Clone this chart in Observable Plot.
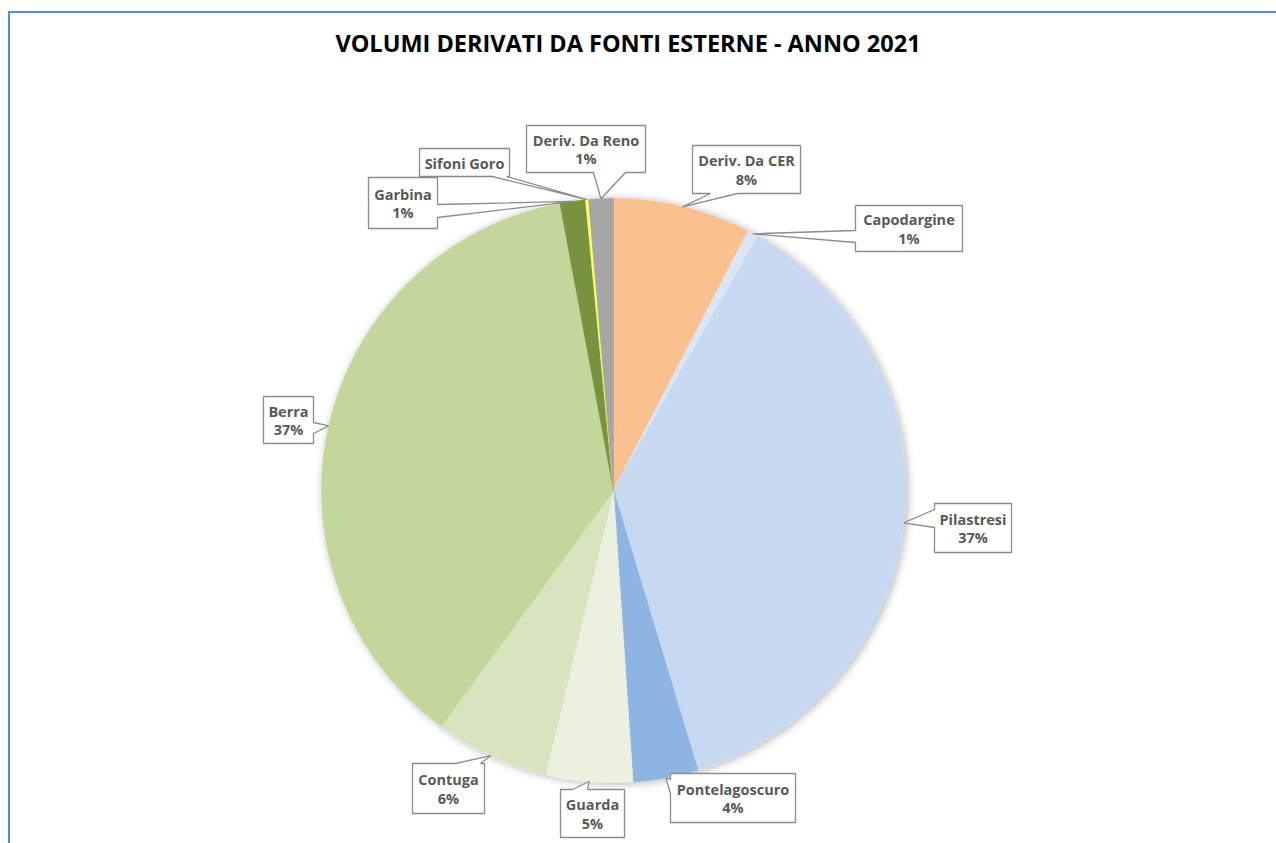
<!DOCTYPE html>
<html><head><meta charset="utf-8">
<script src="https://cdn.jsdelivr.net/npm/d3@7"></script>
<script src="https://cdn.jsdelivr.net/npm/@observablehq/plot@0.6"></script>
<style>
html,body{margin:0;padding:0;background:#fff;overflow:hidden;width:1276px;height:843px;}
#wrap{position:relative;width:1276px;height:843px;}
#frame{position:absolute;left:8px;top:11px;width:1300px;height:900px;border-left:2px solid #5B8BD0;border-top:2px solid #5B8BD0;box-sizing:border-box;}
#title{position:absolute;left:0;top:27px;width:1256px;text-align:center;font-family:"Open Sans",sans-serif;font-weight:700;font-size:23.5px;line-height:32px;color:#000;}
#chart{position:absolute;left:0;top:0;}
</style></head>
<body><div id="wrap"><div id="frame"></div><div id="chart"></div><div id="title">VOLUMI DERIVATI DA FONTI ESTERNE - ANNO 2021</div></div>
<script>
// ---- data (percent of total), clockwise from 12 o'clock ----
const names = ["Deriv. Da CER","Capodargine","Pilastresi","Pontelagoscuro","Guarda","Contuga","Berra","Garbina","Sifoni Goro","Deriv. Da Reno"];
const values = [7.6, 0.6, 37.1, 3.6, 4.8, 6.3, 37.0, 1.4, 0.17, 1.36];
const colors = ["#FAC090","#DCE6F2","#C6D9F1","#8DB4E2","#EBF1DE","#D7E4BD","#C3D69B","#77933C","#FFFF66","#A6A6A6"];

// ---- layout (pixels) ----
const cx = 613, cy = 490, R = 292;
// callout boxes: [x1,y1,x2,y2], side of pointer, base positions along that side
const callouts = [
  {box:[692,145,800,193], side:"bottom", base:[710,737]},
  {box:[855,205,962,251], side:"left",   base:[230,242]},
  {box:[934,503,1011,552],side:"left",   base:[509,527]},
  {box:[670,773,795,822], side:"left",   base:[779,793]},
  {box:[560,789,624,837], side:"top",    base:[572,587]},
  {box:[412,763,484,813], side:"top",    base:[455,480]},
  {box:[263,396,313,443], side:"right",  base:[422,433]},
  {box:[368,177,437,228], side:"right",  base:[204,217]},
  {box:[419,148,509,176], side:"bottom", base:[492,506]},
  {box:[526,125,645,172], side:"bottom", base:[593,625]}
];

const total = d3.sum(values);
const pie = d3.pie().sort(null).value(d => d)(values);

// slice polygons
const slicePts = [];
pie.forEach((p, i) => {
  const id = names[i];
  slicePts.push({id, x: cx, y: cy});
  const n = Math.max(2, Math.ceil((p.endAngle - p.startAngle) / (Math.PI/360)));
  for (let k = 0; k <= n; k++) {
    const a = p.startAngle + (p.endAngle - p.startAngle) * k / n;
    slicePts.push({id, x: cx + R*Math.sin(a), y: cy - R*Math.cos(a)});
  }
  slicePts.push({id, x: cx, y: cy});
});

// callout outlines
const calloutPts = [];
const labels = [];
callouts.forEach((c, i) => {
  const p = pie[i];
  const mid = (p.startAngle + p.endAngle)/2;
  const tip = [cx + R*Math.sin(mid), cy - R*Math.cos(mid)];
  const [x1,y1,x2,y2] = c.box, [b1,b2] = c.base;
  const pts = [[x1,y1]];
  if (c.side==="top") pts.push([b1,y1], tip, [b2,y1]);
  pts.push([x2,y1]);
  if (c.side==="right") pts.push([x2,b1], tip, [x2,b2]);
  pts.push([x2,y2]);
  if (c.side==="bottom") pts.push([b2,y2], tip, [b1,y2]);
  pts.push([x1,y2]);
  if (c.side==="left") pts.push([x1,b2], tip, [x1,b1]);
  pts.push([x1,y1]);
  pts.forEach(([x,y]) => calloutPts.push({id: names[i], x, y}));
  const pct = Math.round(values[i]/total*100);
  labels.push({x:(x1+x2)/2, y:(y1+y2)/2, text: pct > 0 ? names[i] + "\n" + pct + "%" : names[i]});
});

const chart = Plot.plot({
  width: 1276, height: 843,
  margin: 0,
  x: {domain:[0,1276], range:[0,1276], axis:null},
  y: {domain:[0,843], range:[0,843], axis:null},
  color: {domain: names, range: colors},
  marks: [
    Plot.line(slicePts, {x:"x", y:"y", z:"id", fill:"id", stroke:"id", strokeWidth:0.6, curve:"linear"}),
    Plot.line(calloutPts, {x:"x", y:"y", z:"id", fill:"white", stroke:"#8C8C8C", strokeWidth:1.3, curve:"linear", strokeLinejoin:"miter"}),
    Plot.text(labels, {x:"x", y:"y", text:"text", fill:"#595959", fontSize:14.5, fontWeight:"bold", fontFamily:"Open Sans", lineHeight:1.3})
  ]
});
chart.style.fontFamily = "Open Sans";
// soft drop shadow for the pie
const ns = "http://www.w3.org/2000/svg";
const defs = document.createElementNS(ns, "defs");
defs.innerHTML = '<filter id="pshadow" x="-20%" y="-20%" width="140%" height="140%"><feDropShadow dx="2" dy="1" stdDeviation="4" flood-color="#000" flood-opacity="0.3"/></filter>';
chart.insertBefore(defs, chart.firstChild);
const pieG = chart.querySelector('g[aria-label="line"]');
if (pieG) pieG.setAttribute("filter", "url(#pshadow)");
document.getElementById("chart").appendChild(chart);
</script></body></html>
